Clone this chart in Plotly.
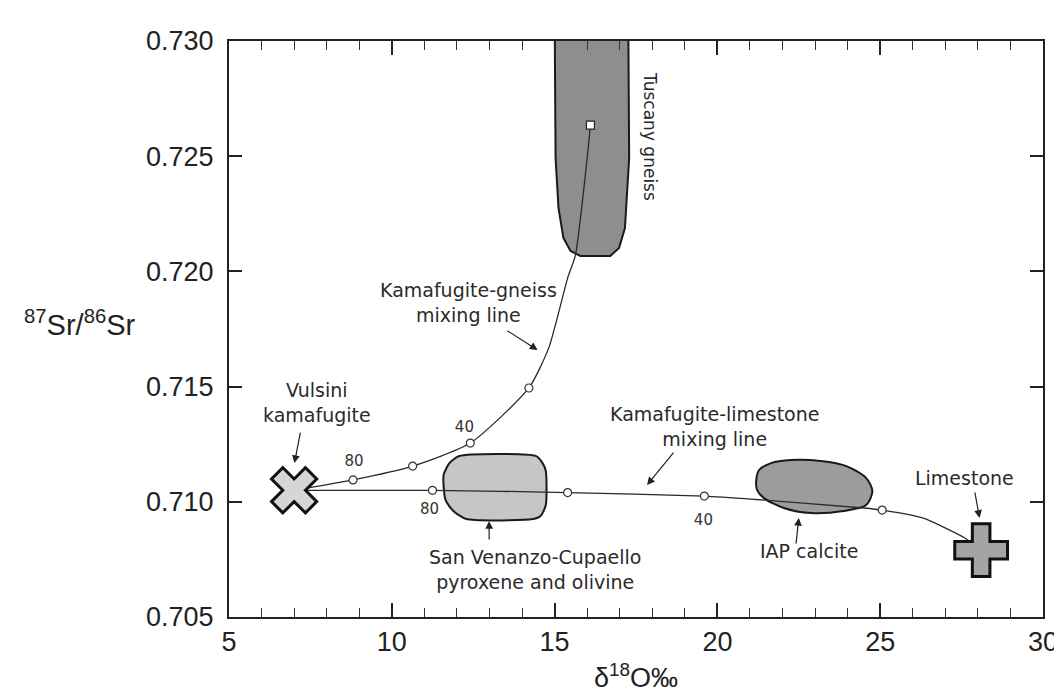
import plotly.graph_objects as go

# ---------------- data ----------------
# end members
kama_x, kama_y = [7.0], [0.7105]
lime_x, lime_y = [28.1], [0.7079]
gneiss_end_x, gneiss_end_y = [16.1], [0.72635]

# Kamafugite-gneiss mixing line
kg_line_x = [7.0, 8.81, 10.64, 12.41, 14.21, 14.82, 15.40, 15.64, 16.0, 16.1]
kg_line_y = [0.7105, 0.71095, 0.71155, 0.71255, 0.71494, 0.71668, 0.71971, 0.72071, 0.72492, 0.72635]
kg_tick_x = [8.81, 10.64, 12.41, 14.21]
kg_tick_y = [0.71095, 0.71155, 0.71255, 0.71494]

# Kamafugite-limestone mixing line
kl_line_x = [7.0, 11.25, 15.4, 19.6, 21.2, 24.5, 25.06, 26.3, 27.6, 28.1]
kl_line_y = [0.7105, 0.7105, 0.7104, 0.71025, 0.7101, 0.70973, 0.70964, 0.7093, 0.70843, 0.7079]
kl_tick_x = [11.25, 15.4, 19.6, 25.06]
kl_tick_y = [0.7105, 0.7104, 0.71025, 0.70964]

# fields
gneiss_fx = [15.0, 15.03, 15.12, 15.27, 15.49, 15.79, 16.71, 16.98, 17.16, 17.29, 17.26, 15.0]
gneiss_fy = [0.7315, 0.72492, 0.72275, 0.72145, 0.72089, 0.72067, 0.72067, 0.72102, 0.72188, 0.72492, 0.7315, 0.7315]

sv_fx = [12.07, 14.42, 14.63, 14.73, 14.73, 14.57, 14.33, 12.29, 11.89, 11.65, 11.59, 11.77, 12.07]
sv_fy = [0.71199, 0.71199, 0.71168, 0.71134, 0.70986, 0.70938, 0.70925, 0.70925, 0.70960, 0.71008, 0.71116, 0.71168, 0.71199]

iap_fx = [21.19, 21.28, 21.65, 22.26, 23.17, 23.96, 24.57, 24.76, 24.57, 23.87, 22.87, 22.04, 21.43, 21.22, 21.19]
iap_fy = [0.71090, 0.71138, 0.71168, 0.71181, 0.71177, 0.71155, 0.71103, 0.71047, 0.70986, 0.70960, 0.70951, 0.70973, 0.71016, 0.71051, 0.71090]

# percentage labels
pct_text = ["80", "40", "80", "40"]
pct_x = [8.84, 12.23, 11.16, 19.57]
pct_y = [0.71173, 0.7132, 0.70964, 0.70917]

# text labels
labels = ["Vulsini<br>kamafugite", "Kamafugite-gneiss<br>mixing line",
          "Kamafugite-limestone<br>mixing line",
          "San Venanzo-Cupaello<br>pyroxene and olivine", "IAP calcite", "Limestone"]
label_x = [7.71, 12.35, 19.91, 14.40, 22.80, 27.59]
label_y = [0.71429, 0.71867, 0.71325, 0.70708, 0.70786, 0.71103]

# arrows (head, tail)
arrow_head_x = [7.01, 14.48, 17.84, 12.99, 22.50, 28.05]
arrow_head_y = [0.71168, 0.71659, 0.71073, 0.70917, 0.70930, 0.70930]
arrow_tail_x = [7.20, 13.51, 18.69, 12.99, 22.41, 27.90]
arrow_tail_y = [0.71307, 0.71746, 0.71220, 0.70830, 0.70812, 0.71047]

x_ticks = [5, 10, 15, 20, 25, 30]
y_ticks = [0.705, 0.710, 0.715, 0.720, 0.725, 0.730]

# ---------------- figure ----------------
LINE = "#2a2a2a"
fig = go.Figure()

fig.add_trace(go.Scatter(x=gneiss_fx, y=gneiss_fy, mode="lines", fill="toself",
                         fillcolor="#8e8e8e", line=dict(color="#1a1a1a", width=2),
                         hoverinfo="skip"))
fig.add_trace(go.Scatter(x=sv_fx, y=sv_fy, mode="lines", fill="toself",
                         fillcolor="#c6c6c6", line=dict(color="#1a1a1a", width=2, shape="spline", smoothing=0.6),
                         hoverinfo="skip"))
fig.add_trace(go.Scatter(x=iap_fx, y=iap_fy, mode="lines", fill="toself",
                         fillcolor="#9c9c9c", line=dict(color="#1a1a1a", width=2, shape="spline", smoothing=0.8),
                         hoverinfo="skip"))

fig.add_trace(go.Scatter(x=kg_line_x, y=kg_line_y, mode="lines",
                         line=dict(color=LINE, width=1.3, shape="spline", smoothing=0.6)))
fig.add_trace(go.Scatter(x=kl_line_x, y=kl_line_y, mode="lines",
                         line=dict(color=LINE, width=1.3, shape="spline", smoothing=0.6)))

fig.add_trace(go.Scatter(x=kg_tick_x + kl_tick_x, y=kg_tick_y + kl_tick_y, mode="markers",
                         marker=dict(symbol="circle", size=8, color="white",
                                     line=dict(color="#333", width=1.2))))
fig.add_trace(go.Scatter(x=gneiss_end_x, y=gneiss_end_y, mode="markers",
                         marker=dict(symbol="square", size=8, color="white",
                                     line=dict(color="#222", width=1.2))))

fig.add_trace(go.Scatter(x=kama_x, y=kama_y, mode="markers",
                         marker=dict(symbol="x", size=40, color="#d6d6d6",
                                     line=dict(color="#111", width=3))))
fig.add_trace(go.Scatter(x=lime_x, y=lime_y, mode="markers",
                         marker=dict(symbol="cross", size=44, color="#a4a4a4",
                                     line=dict(color="#111", width=3))))

fig.add_trace(go.Scatter(x=pct_x, y=pct_y, mode="text", text=pct_text,
                         textfont=dict(family="DejaVu Sans", size=15, color="#333")))

ann = []
for t, x, y in zip(labels, label_x, label_y):
    ann.append(dict(x=x, y=y, xref="x", yref="y", text=t, showarrow=False,
                    font=dict(family="DejaVu Sans", size=19, color="#2a2a2a")))
ann.append(dict(x=17.93, y=0.72588, xref="x", yref="y", text="Tuscany gneiss",
                showarrow=False, textangle=90,
                font=dict(family="DejaVu Sans", size=17, color="#2a2a2a")))
for hx, hy, tx, ty in zip(arrow_head_x, arrow_head_y, arrow_tail_x, arrow_tail_y):
    ann.append(dict(x=hx, y=hy, xref="x", yref="y", ax=tx, ay=ty, axref="x", ayref="y",
                    text="", showarrow=True, arrowhead=2, arrowsize=1.3, arrowwidth=1.2,
                    arrowcolor="#222"))
ann.append(dict(x=-0.254, y=0.51, xref="paper", yref="paper", xanchor="left", yanchor="middle",
                text="<sup>87</sup>Sr/<sup>86</sup>Sr", showarrow=False,
                font=dict(family="Liberation Sans", size=29, color="#222")))

fig.update_layout(
    width=1062, height=693,
    margin=dict(l=221, r=21, t=33, b=84),
    paper_bgcolor="white", plot_bgcolor="white",
    showlegend=False,
    annotations=ann,
)
fig.update_xaxes(range=[5, 30], tickvals=x_ticks, ticks="inside", ticklen=14, tickwidth=1.5,
                 tickcolor="#222", showline=True, linecolor="#222", linewidth=2, mirror="ticks",
                 showgrid=False, zeroline=False,
                 minor=dict(dtick=1, ticks="inside", ticklen=9, tickwidth=1.3, tickcolor="#333", showgrid=False),
                 tickfont=dict(family="Liberation Sans", size=27, color="#222"),
                 title=dict(text="δ<sup>18</sup>O‰", font=dict(family="Liberation Sans", size=27, color="#222"),
                            standoff=12))
fig.update_yaxes(range=[0.705, 0.730], tickvals=y_ticks, tickformat=".3f", ticks="inside", ticklen=13,
                 tickwidth=1.5, tickcolor="#222", showline=True, linecolor="#222", linewidth=2,
                 mirror="ticks", showgrid=False, zeroline=False, ticklabelstandoff=8,
                 tickfont=dict(family="Liberation Sans", size=27, color="#222"))

fig.write_html("out.html")
